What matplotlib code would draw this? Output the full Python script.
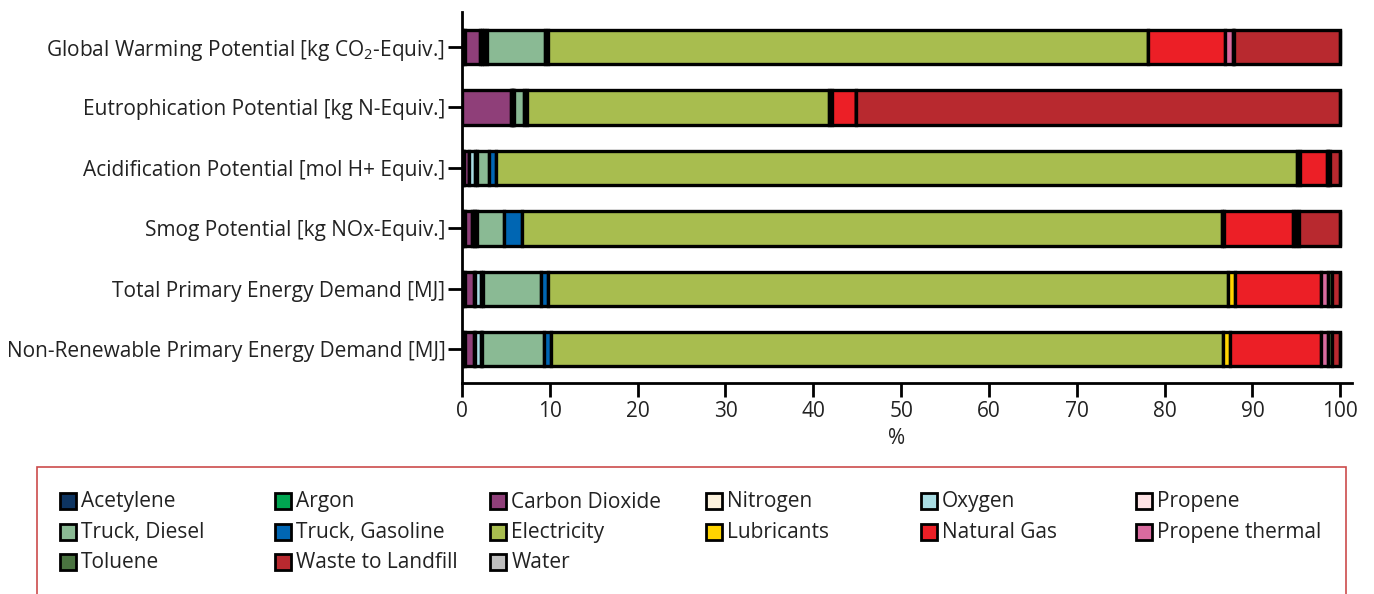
import numpy as np
import matplotlib
matplotlib.use('Agg')
import matplotlib.pyplot as plt
from matplotlib.patches import Rectangle

plt.rcParams['font.family'] = ['Open Sans', 'DejaVu Sans']
plt.rcParams['mathtext.fontset'] = 'custom'
plt.rcParams['mathtext.rm'] = 'Open Sans'
plt.rcParams['mathtext.it'] = 'Open Sans:italic'

# impact categories, top to bottom
impacts = [
    'Global Warming Potential [kg CO$_2$-Equiv.]',
    'Eutrophication Potential [kg N-Equiv.]',
    'Acidification Potential [mol H+ Equiv.]',
    'Smog Potential [kg NOx-Equiv.]',
    'Total Primary Energy Demand [MJ]',
    'Non-Renewable Primary Energy Demand [MJ]',
]

contributors = ['Acetylene', 'Argon', 'Carbon Dioxide', 'Nitrogen', 'Oxygen', 'Propene',
                'Truck, Diesel', 'Truck, Gasoline', 'Electricity', 'Lubricants', 'Natural Gas',
                'Propene thermal', 'Toluene', 'Waste to Landfill', 'Water']

# share [%] of each contributor, same order as contributors
gwp = [0.15, 0.15, 1.8, 0.2, 0.25, 0.25, 6.6, 0.4, 68.35, 0.0, 8.75, 0.9, 0.05, 12.1, 0.05]
eutrophication = [0.0, 0.0, 5.6, 0.1, 0.1, 0.1, 1.2, 0.35, 34.3, 0.35, 2.75, 0.05, 0.0, 55.1, 0.0]
acidification = [0.1, 0.1, 0.65, 0.0, 0.65, 0.2, 1.4, 0.8, 91.2, 0.35, 3.0, 0.2, 0.2, 1.15, 0.0]
smog = [0.15, 0.15, 0.85, 0.2, 0.15, 0.2, 3.1, 2.0, 79.7, 0.3, 7.8, 0.3, 0.35, 4.75, 0.0]
primary_energy = [0.15, 0.15, 1.05, 0.15, 0.7, 0.2, 6.55, 0.85, 77.4, 0.85, 9.8, 0.7, 0.55, 0.9, 0.0]
nonrenewable_energy = [0.15, 0.15, 1.1, 0.1, 0.7, 0.1, 7.0, 0.8, 76.5, 0.85, 10.4, 0.7, 0.55, 0.9, 0.0]

colors = ['#0d3461', '#00a651', '#8f3f79', '#fbf1dc', '#a9dde3', '#fde2e4',
          '#8aba94', '#0066b3', '#a8bd4f', '#ffd400', '#ec1f26',
          '#d96b9f', '#4a7340', '#b8292f', '#bfbfbf']

shares = np.array([gwp, eutrophication, acidification, smog, primary_energy, nonrenewable_energy])

FS = 15

fig = plt.figure(figsize=(13.74, 5.94), dpi=100)
ax = fig.add_axes([0.3362, 0.3552, 0.6476, 0.6246])

y = np.arange(len(impacts))
left = np.zeros(len(impacts))
for i, name in enumerate(contributors):
    ax.barh(y, shares[:, i], left=left, height=0.57, color=colors[i],
            edgecolor='black', linewidth=2.4, label=name)
    left += shares[:, i]

ax.set_xlim(0, 101.3)
ax.set_ylim(5.56, -0.58)
ax.set_xticks(np.arange(0, 101, 10))
ax.set_yticks(y, impacts)
for s in ['top', 'right']:
    ax.spines[s].set_visible(False)
for s in ['left', 'bottom']:
    ax.spines[s].set_linewidth(2)
ax.tick_params(axis='both', labelsize=FS, width=2, length=10, color='black', labelcolor='#222222')
ax.tick_params(axis='y', pad=2)
ax.tick_params(axis='x', pad=3)
ax.set_xlabel('%', fontsize=FS, color='#222222')
ax.xaxis.set_label_coords(49.5 / 101.3, -0.122)

# legend box, drawn by hand so columns are evenly spaced
W, H = 1374., 594.
fig.add_artist(Rectangle((36.7 / W, -0.1), (1345.7 - 36.7) / W, 0.1 + 1 - 466.7 / H,
                         transform=fig.transFigure, facecolor='none', edgecolor='#cc4b4b',
                         linewidth=1.2))
for i, name in enumerate(contributors):
    col, row = i % 6, i // 6
    x0 = 60 + col * 215.2
    yc = 501 + row * 30.5
    fig.add_artist(Rectangle((x0 / W, 1 - (yc + 8) / H), 16 / W, 16 / H,
                             transform=fig.transFigure, facecolor=colors[i],
                             edgecolor='black', linewidth=2))
    fig.text((x0 + 21) / W, 1 - (yc + 1) / H, name, fontsize=FS, color='#222222', va='center', ha='left')

fig.savefig('out.png', dpi=100)
